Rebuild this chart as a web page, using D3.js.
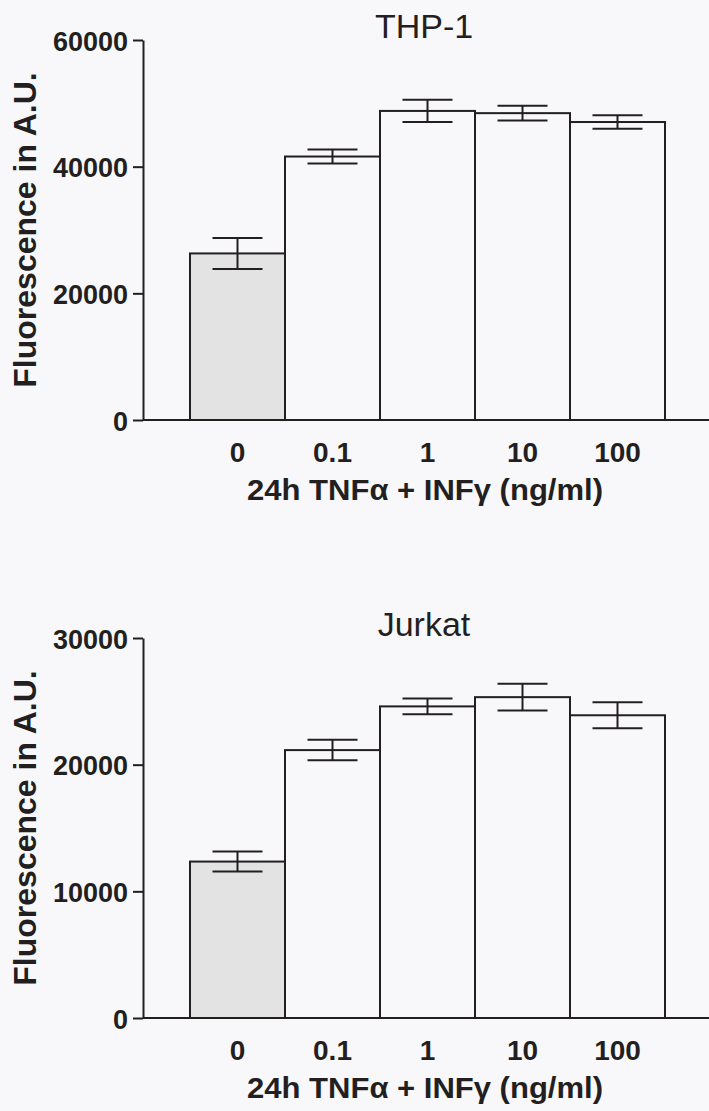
<!DOCTYPE html>
<html><head><meta charset="utf-8">
<script src="https://cdn.jsdelivr.net/npm/d3@7"></script>
<style>
html,body{margin:0;padding:0;background:#f8f8fa;}
svg{display:block;}
text{font-family:"Liberation Sans",Arial,Helvetica,sans-serif;fill:#231f20;}
</style></head><body>
<script>
const categories = ["0", "0.1", "1", "10", "100"];
const thpMeans = [26300, 41600, 48800, 48450, 47050];
const thpErrors = [2440, 1100, 1760, 1180, 1060];
const jurkatMeans = [12350, 21150, 24600, 25330, 23900];
const jurkatErrors = [790, 810, 620, 1050, 1030];
const thpTicks = [0, 20000, 40000, 60000];
const jurkatTicks = [0, 10000, 20000, 30000];
const titles = ["THP-1", "Jurkat"];
const yTitle = "Fluorescence in A.U.";
const xTitle = "24h TNFα + INFγ (ng/ml)";

const W = 709, H = 1111;
const ink = "#231f20";
const svg = d3.select("body").append("svg").attr("width", W).attr("height", H);

function txt(g, x, y, str, opts) {
  const t = g.append("g").attr("transform", `translate(${x},${y})` + (opts.rotate ? ` rotate(${opts.rotate})` : "") + ` scale(${opts.sx || 1},1)`);
  t.append("text").attr("text-anchor", opts.anchor || "middle")
    .attr("font-size", opts.size).attr("font-weight", opts.weight || "bold").text(str);
}

function panel(top, means, errors, ticks, title) {
  const y0 = top + 380, y1 = top;
  const g = svg.append("g");
  const x = d3.scaleBand().domain(categories).range([190, 665]).padding(0);
  const y = d3.scaleLinear().domain([0, d3.max(ticks)]).range([y0, y1]);
  const axisX = 143;

  g.selectAll("rect.bar").data(categories).enter().append("rect")
    .attr("x", d => x(d)).attr("width", x.bandwidth())
    .attr("y", (d, i) => y(means[i])).attr("height", (d, i) => y(0) - y(means[i]))
    .attr("fill", (d, i) => i === 0 ? "#e3e3e3" : "#f8f8fa")
    .attr("stroke", ink).attr("stroke-width", 2);

  const capW = 50;
  categories.forEach((c, i) => {
    const cx = x(c) + x.bandwidth() / 2;
    const hi = y(means[i] + errors[i]), lo = y(means[i] - errors[i]);
    g.append("line").attr("x1", cx).attr("x2", cx).attr("y1", hi).attr("y2", lo).attr("stroke", ink).attr("stroke-width", 2);
    g.append("line").attr("x1", cx - capW / 2).attr("x2", cx + capW / 2).attr("y1", hi).attr("y2", hi).attr("stroke", ink).attr("stroke-width", 2);
    g.append("line").attr("x1", cx - capW / 2).attr("x2", cx + capW / 2).attr("y1", lo).attr("y2", lo).attr("stroke", ink).attr("stroke-width", 2);
  });

  const ya = g.append("g").attr("transform", `translate(${axisX},0)`)
    .call(d3.axisLeft(y).tickValues(ticks).tickSize(10).tickSizeOuter(0).tickFormat(d3.format("d")));
  ya.select(".domain").attr("stroke", ink).attr("stroke-width", 2);
  ya.selectAll(".tick line").attr("stroke", ink).attr("stroke-width", 2);
  ya.selectAll(".tick text").remove();
  ya.selectAll(".tick").each(function (d) {
    txt(d3.select(this), -15, 10, d3.format("d")(d), { anchor: "end", size: 27 });
  });

  g.append("line").attr("x1", axisX).attr("x2", W).attr("y1", y0).attr("y2", y0).attr("stroke", ink).attr("stroke-width", 2);

  const xa = g.append("g").attr("transform", `translate(0,${y0})`)
    .call(d3.axisBottom(x).tickSize(0));
  xa.select(".domain").remove();
  xa.selectAll(".tick text").remove();
  xa.selectAll(".tick").each(function (d) {
    txt(d3.select(this), 0, 42, d, { size: 28 });
  });

  txt(g, 425, y0 + 80, xTitle, { size: 29, sx: 1.07 });
  txt(g, 424, top - 2, title, { size: 34, weight: "normal" });
  txt(g, 36, (y0 + y1) / 2, yTitle, { size: 32, rotate: -90 });
}

panel(40, thpMeans, thpErrors, thpTicks, titles[0]);
panel(638, jurkatMeans, jurkatErrors, jurkatTicks, titles[1]);
</script>
</body></html>
